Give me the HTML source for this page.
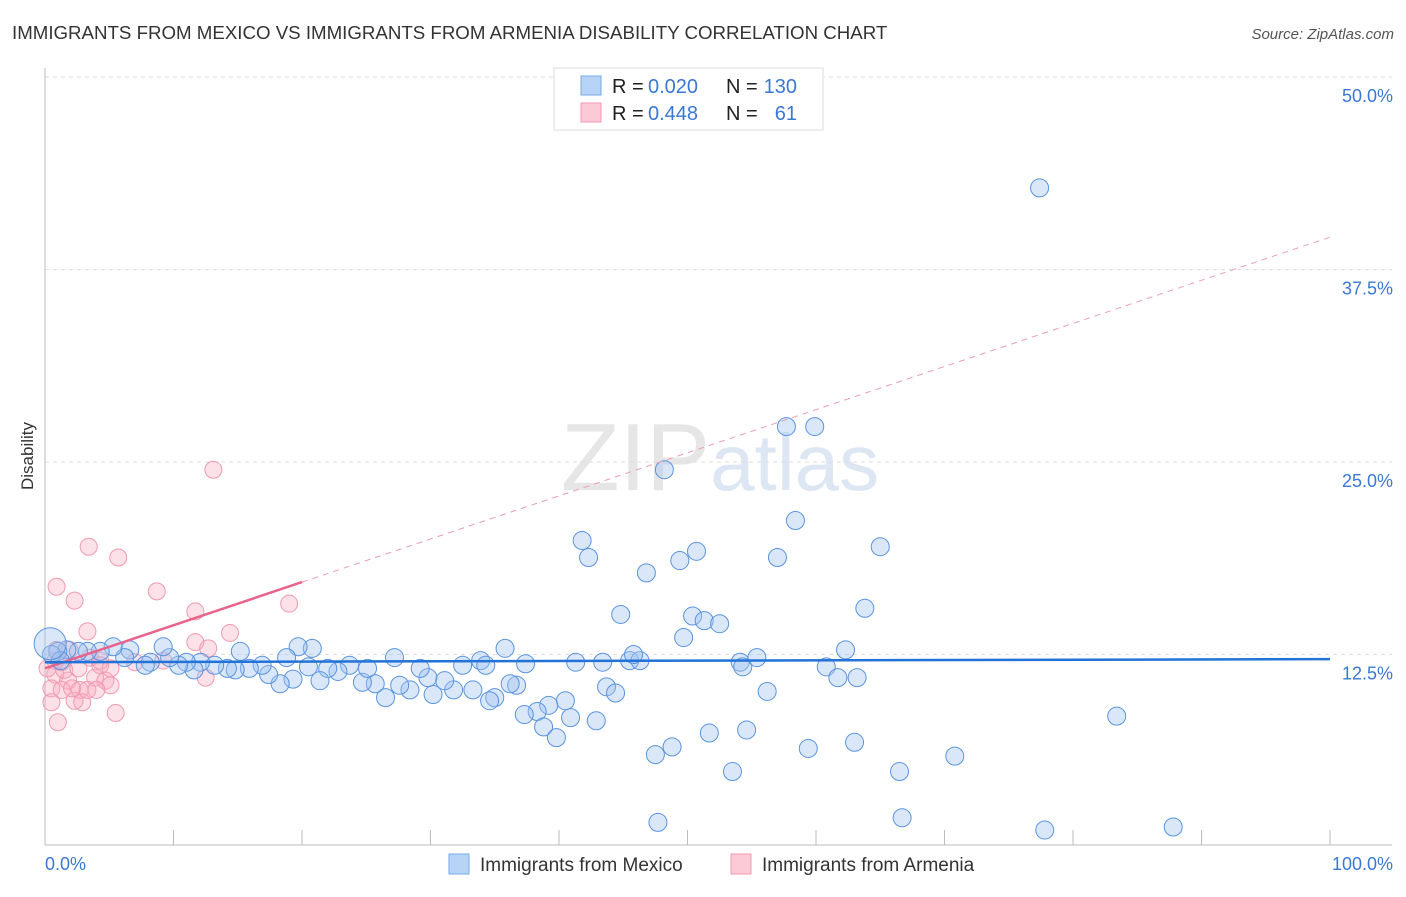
<!DOCTYPE html>
<html><head><meta charset="utf-8"><style>
body{margin:0;background:#fff;font-family:"Liberation Sans",sans-serif}
svg text{font-family:"Liberation Sans",sans-serif}
</style></head><body>
<svg id="chart" width="1406" height="892" xmlns="http://www.w3.org/2000/svg">
<text x="12" y="39" font-size="18.7" fill="#333">IMMIGRANTS FROM MEXICO VS IMMIGRANTS FROM ARMENIA DISABILITY CORRELATION CHART</text>
<text x="1394" y="39" font-size="15" font-style="italic" fill="#555" text-anchor="end">Source: ZipAtlas.com</text>
<text x="720" y="490" font-size="96" text-anchor="middle" fill="#e6e6e6" font-family="Liberation Serif">ZIP<tspan fill="#dde6f3" font-family="Liberation Sans" font-size="80">atlas</tspan></text>
<text transform="translate(33,456) rotate(-90)" font-size="17" fill="#333" text-anchor="middle">Disability</text>
<g id="grid"></g><g id="marks"></g>
<g>
<rect x="554" y="68" width="269" height="62" fill="#fff" stroke="#ddd"/>
<rect x="581" y="76" width="20" height="19" fill="#b7d3f5" stroke="#7aaae8"/>
<rect x="581" y="103" width="20" height="19" fill="#fcc9d6" stroke="#f09ab2"/>
<text x="612" y="93" font-size="20" fill="#222">R =</text>
<text x="648" y="93" font-size="20" fill="#3a78d4">0.020</text>
<text x="726" y="93" font-size="20" fill="#222">N =</text>
<text x="797" y="93" font-size="20" fill="#3a78d4" text-anchor="end">130</text>
<text x="612" y="120" font-size="20" fill="#222">R =</text>
<text x="648" y="120" font-size="20" fill="#3a78d4">0.448</text>
<text x="726" y="120" font-size="20" fill="#222">N =</text>
<text x="797" y="120" font-size="20" fill="#3a78d4" text-anchor="end">61</text>
</g>
<g>
<rect x="449" y="854" width="20" height="20" fill="#b7d3f5" stroke="#7aaae8"/>
<text x="480" y="871" font-size="19" fill="#333">Immigrants from Mexico</text>
<rect x="731" y="854" width="20" height="20" fill="#fcc9d6" stroke="#f09ab2"/>
<text x="762" y="871" font-size="19" fill="#333">Immigrants from Armenia</text>
</g>
</svg>
<script>
const yTicks=[12.5,25,37.5,50];
const yTickLabels=["12.5%","25.0%","37.5%","50.0%"];
const xTickVals=[0,10,20,30,40,50,60,70,80,90,100];
const mexicoX=[77.4,57.7,59.9,48.2,58.4,41.8,42.3,50.7,49.4,57.0,65.0,46.8,44.8,50.4,51.3,52.5,63.8,49.7,62.3,83.4,70.8,66.5,53.5,47.5,48.8,51.7,54.6,59.4,63.0,47.7,66.7,77.8,87.8,56.2,54.1,54.3,55.4,60.8,61.7,63.2,41.3,43.4,45.5,46.3,45.8,43.7,44.4,42.9,40.9,40.5,39.2,38.3,37.3,38.8,39.8,35.8,33.9,34.3,32.5,33.3,31.8,30.2,31.1,29.8,29.2,28.4,27.2,27.6,26.5,25.7,24.7,25.1,23.7,22.8,22.0,21.4,20.5,20.8,19.7,19.3,18.3,18.8,17.4,16.9,15.9,15.2,14.8,14.2,13.2,12.1,11.6,11.0,10.4,9.7,9.2,8.2,7.8,6.6,6.2,5.3,4.3,3.3,2.6,1.7,1.0,0.5,1.2,35.0,34.6,36.7,36.2,37.4];
const mexicoY=[42.8,27.3,27.3,24.5,21.2,19.9,18.8,19.2,18.6,18.8,19.5,17.8,15.1,15.0,14.7,14.5,15.5,13.6,12.8,8.5,5.9,4.9,4.9,6.0,6.5,7.4,7.6,6.4,6.8,1.6,1.9,1.1,1.3,10.1,12.0,11.7,12.3,11.7,11.0,11.0,12.0,12.0,12.1,12.1,12.5,10.4,10.0,8.2,8.4,9.5,9.2,8.8,8.6,7.8,7.1,12.9,12.1,11.8,11.8,10.2,10.2,9.9,10.8,11.0,11.6,10.2,12.3,10.5,9.7,10.6,10.7,11.6,11.8,11.4,11.6,10.8,11.7,12.9,13.0,10.9,10.6,12.3,11.2,11.8,11.6,12.7,11.5,11.6,11.8,12.0,11.5,12.0,11.8,12.3,13.0,12.0,11.8,12.8,12.3,13.0,12.7,12.7,12.7,12.8,12.7,12.5,12.1,9.7,9.5,10.5,10.6,11.9];
const armeniaX=[13.1,3.4,5.7,0.9,2.3,8.7,11.7,19.0,14.4,3.3,11.7,12.7,9.2,12.5,0.9,1.3,0.8,0.5,1.8,2.7,3.9,4.3,4.7,5.1,2.3,1.3,2.9,0.5,5.5,1.0,1.9,3.5,7.0,4.3,0.2,3.3,2.1,1.5,2.6,5.1,4.0,0.8];
const armeniaY=[24.5,19.5,18.8,16.9,16.0,16.6,15.3,15.8,13.9,14.0,13.3,12.9,12.1,11.0,12.8,12.0,11.2,10.3,10.8,10.2,11.0,11.8,10.8,10.5,9.5,10.2,9.4,9.4,8.7,8.1,12.8,12.3,12.0,12.1,11.6,10.2,10.3,11.5,11.6,11.6,10.2,12.1];
const mexicoTrend=[12.0,12.2];
const armeniaTrend=[11.6,39.6];
const NS="http://www.w3.org/2000/svg";
const X=v=>45+v*12.85, Y=v=>847-v*15.4;
function mk(t,a,p){const e=document.createElementNS(NS,t);for(const k in a)e.setAttribute(k,a[k]);p.appendChild(e);return e;}
const g=document.getElementById('grid'), m=document.getElementById('marks');
yTicks.forEach((t,i)=>{
 const l=mk('line',{x1:45,x2:1392,y1:Y(t),y2:Y(t),stroke:'#ddd','stroke-dasharray':'4,4'},g);
 
 
 const tx=mk('text',{x:1393,y:Y(t)+25,'font-size':18,fill:'#3a78d4','text-anchor':'end'},g);
 tx.textContent=yTickLabels[i];
 
 
});
const ya=mk('line',{x1:45,x2:45,y1:68,y2:845,stroke:'#bbb'},g);


const xa=mk('line',{x1:45,x2:1392,y1:845,y2:845,stroke:'#bbb'},g);


xTickVals.forEach(v=>{const t=mk('line',{x1:X(v),x2:X(v),y1:830,y2:845,stroke:'#bbb'},g);
 
 });
const x0=mk('text',{x:45,y:870,'font-size':18,fill:'#3a78d4'},g);x0.textContent='0.0%';


const x1=mk('text',{x:1393,y:870,'font-size':18,fill:'#3a78d4','text-anchor':'end'},g);x1.textContent='100.0%';


armeniaX.forEach((v,i)=>{const c=mk('circle',{cx:X(v),cy:Y(armeniaY[i]),r:8.5,fill:'rgba(248,170,192,0.35)',stroke:'#f09ab2','stroke-width':1},m);
 
 });
mexicoX.forEach((v,i)=>{const c=mk('circle',{cx:X(v),cy:Y(mexicoY[i]),r:9,fill:'rgba(160,196,240,0.4)',stroke:'#5a94e0','stroke-width':1},m);
 
 });
const big=mk('circle',{cx:X(0.4),cy:Y(13.2),r:16,fill:'rgba(160,196,240,0.4)',stroke:'#5a94e0'},m);


const at=v=>armeniaTrend[0]+(armeniaTrend[1]-armeniaTrend[0])*v/100;
const ad=mk('line',{x1:X(20),y1:Y(at(20)),x2:X(100),y2:Y(at(100)),stroke:'#eca0b6','stroke-dasharray':'6,5','stroke-width':1},m);


const as=mk('line',{x1:X(0),y1:Y(at(0)),x2:X(20),y2:Y(at(20)),stroke:'#e8648c','stroke-width':2.5},m);


const ms=mk('line',{x1:X(0),y1:Y(mexicoTrend[0]),x2:X(100),y2:Y(mexicoTrend[1]),stroke:'#2272d8','stroke-width':2.5},m);


</script>
</body></html>
